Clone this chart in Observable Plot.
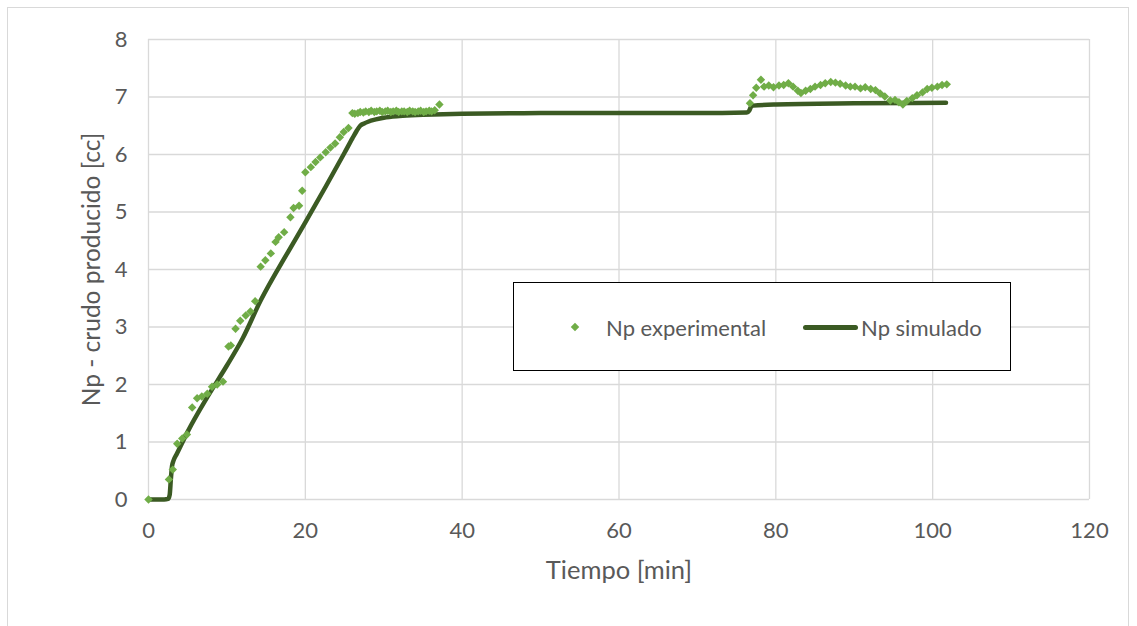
<!DOCTYPE html>
<html>
<head>
<meta charset="utf-8">
<script src="https://cdn.jsdelivr.net/npm/d3@7"></script>
<script src="https://cdn.jsdelivr.net/npm/@observablehq/plot@0.6"></script>
<style>
  html, body { margin: 0; padding: 0; background: #fff; }
  #wrap { position: relative; width: 1137px; height: 626px; overflow: hidden; font-family: Lato, "Open Sans", sans-serif; }
  #frame { position: absolute; left: 7px; top: 7px; width: 1122px; height: 700px; border: 1px solid #d9d9d9; box-sizing: border-box; }
  #chart { position: absolute; left: 0; top: 0; }
  #legend { position: absolute; left: 513px; top: 282px; width: 498px; height: 89px; border: 1.5px solid #000; box-sizing: border-box; background: #fff; color: #595959; font-size: 22px; }
  #legend .item { position: absolute; top: 0; height: 88px; display: flex; align-items: center; }
  #legend .dia { display: inline-block; width: 6px; height: 6px; background: #70ad47; transform: rotate(45deg); }
  #legend .ln { display: inline-block; width: 55px; height: 5px; border-radius: 3px; background: #3b5a23; }
</style>
</head>
<body>
<div id="wrap">
  <div id="frame"></div>
  <div id="chart"></div>
  <div id="legend">
    <div class="item" style="left:58px"><span class="dia"></span><span style="margin-left:28px">Np experimental</span></div>
    <div class="item" style="left:289px"><span class="ln"></span><span style="margin-left:3px">Np simulado</span></div>
  </div>
</div>
<script>
// Experimental data: time [min] and Np [cc]
const expTime = [0, 2.6, 3.1, 3.66, 4.3, 4.9, 5.57, 6.2, 6.8, 7.5, 8.1, 8.76, 9.5, 10.2, 10.5, 11.1, 11.7, 12.4, 13.0, 13.6,
  14.3, 14.9, 15.6, 16.2, 16.6, 17.3, 18.1, 18.5, 19.2, 19.6, 20.0, 20.7, 21.3, 21.9, 22.6, 23.2, 23.8, 24.4, 24.9, 25.5,
  26.0, 26.3, 26.7, 27.0, 27.4, 27.7, 28.1, 28.4, 28.8, 29.1, 29.5, 29.8, 30.2, 30.5, 30.9, 31.2, 31.6, 31.9, 32.3, 32.6,
  33.0, 33.3, 33.7, 34.0, 34.4, 34.7, 35.1, 35.4, 35.8, 36.1, 36.5, 37.1,
  76.7, 77.1, 77.5, 78.1, 78.5, 79.1, 79.7, 80.4, 81.0, 81.6, 82.2, 82.8, 83.2, 83.8, 84.4, 85.0, 85.7, 86.3, 87.0, 87.6,
  88.2, 88.9, 89.5, 90.1, 90.8, 91.4, 92.1, 92.7, 93.3, 93.9, 94.6, 95.2, 95.7, 96.2, 96.7, 97.4, 98.0, 98.7, 99.3, 99.9,
  100.6, 101.2, 101.8];
const expNp = [0, 0.35, 0.52, 0.97, 1.06, 1.13, 1.6, 1.76, 1.79, 1.84, 1.96, 2.0, 2.05, 2.66, 2.68, 2.97, 3.11, 3.2, 3.27, 3.45,
  4.05, 4.16, 4.28, 4.48, 4.56, 4.65, 4.91, 5.07, 5.11, 5.37, 5.69, 5.78, 5.87, 5.95, 6.04, 6.12, 6.19, 6.3, 6.39, 6.46,
  6.72, 6.71, 6.72, 6.74, 6.73, 6.75, 6.74, 6.76, 6.74, 6.75, 6.76, 6.74, 6.75, 6.76, 6.74, 6.75, 6.76, 6.74, 6.75, 6.75,
  6.74, 6.76, 6.75, 6.74, 6.75, 6.76, 6.74, 6.75, 6.76, 6.75, 6.77, 6.87,
  6.89, 7.03, 7.16, 7.3, 7.18, 7.2, 7.17, 7.2, 7.21, 7.24, 7.18, 7.11, 7.07, 7.11, 7.14, 7.18, 7.21, 7.24, 7.26, 7.25,
  7.23, 7.2, 7.18, 7.18, 7.15, 7.17, 7.14, 7.12, 7.06, 7.01, 6.94, 6.95, 6.91, 6.87, 6.93, 6.98, 7.03, 7.08, 7.14, 7.16,
  7.18, 7.21, 7.22];

// Simulated data
const simTime = [0, 1, 2, 2.5, 2.7, 2.85, 3.0, 3.2, 3.6, 5, 7.5, 10, 12, 14.3, 17.9, 20, 25, 26, 26.5, 27, 27.5, 28, 29, 30, 32, 35, 40, 50, 60, 70, 76.3, 76.6, 76.8, 77.1, 80, 90, 101.7];
const simNp   = [0, 0, 0, 0.01, 0.08, 0.35, 0.58, 0.68, 0.79, 1.18, 1.78, 2.33, 2.8, 3.46, 4.33, 4.82, 6.03, 6.28, 6.4, 6.5, 6.54, 6.57, 6.61, 6.64, 6.67, 6.69, 6.71, 6.72, 6.72, 6.72, 6.73, 6.76, 6.82, 6.85, 6.87, 6.89, 6.9];

const xTicks = [0, 20, 40, 60, 80, 100, 120];
const yTicks = [0, 1, 2, 3, 4, 5, 6, 7, 8];

const expData = expTime.map((t, i) => ({t, v: expNp[i]}));
const simData = simTime.map((t, i) => ({t, v: simNp[i]}));

const chart = Plot.plot({
  width: 1137,
  height: 626,
  marginLeft: 148,
  marginRight: 48,
  marginTop: 39,
  marginBottom: 127,
  style: { fontFamily: "Lato, 'Open Sans', sans-serif", color: "#595959", background: "transparent" },
  x: { domain: [0, 120] },
  y: { domain: [0, 8] },
  marks: [
    Plot.gridX(xTicks, { stroke: "#d9d9d9", strokeOpacity: 1, strokeWidth: 1.3 }),
    Plot.gridY(yTicks, { stroke: "#d9d9d9", strokeOpacity: 1, strokeWidth: 1.3 }),
    Plot.axisX({ ticks: xTicks, tickSize: 0, tickPadding: 23, fontSize: 22, label: null, fill: "#595959" }),
    Plot.axisY({ ticks: yTicks, tickSize: 0, tickPadding: 21, fontSize: 22, label: null, fill: "#595959" }),
    Plot.text(["Tiempo [min]"], { frameAnchor: "bottom", dy: 79, fontSize: 25.5, fill: "#595959" }),
    Plot.text(["Np - crudo producido [cc]"], { frameAnchor: "left", textAnchor: "middle", dx: -56, rotate: -90, fontSize: 24.5, fill: "#595959" }),
    Plot.line(simData, { x: "t", y: "v", stroke: "#3b5a23", strokeWidth: 4.5, strokeLinejoin: "round", strokeLinecap: "round", curve: "monotone-x" }),
    Plot.dot(expData, { x: "t", y: "v", symbol: "diamond2", r: 3.8, fill: "#70ad47", stroke: "none" })
  ]
});
document.getElementById("chart").appendChild(chart);
</script>
</body>
</html>
